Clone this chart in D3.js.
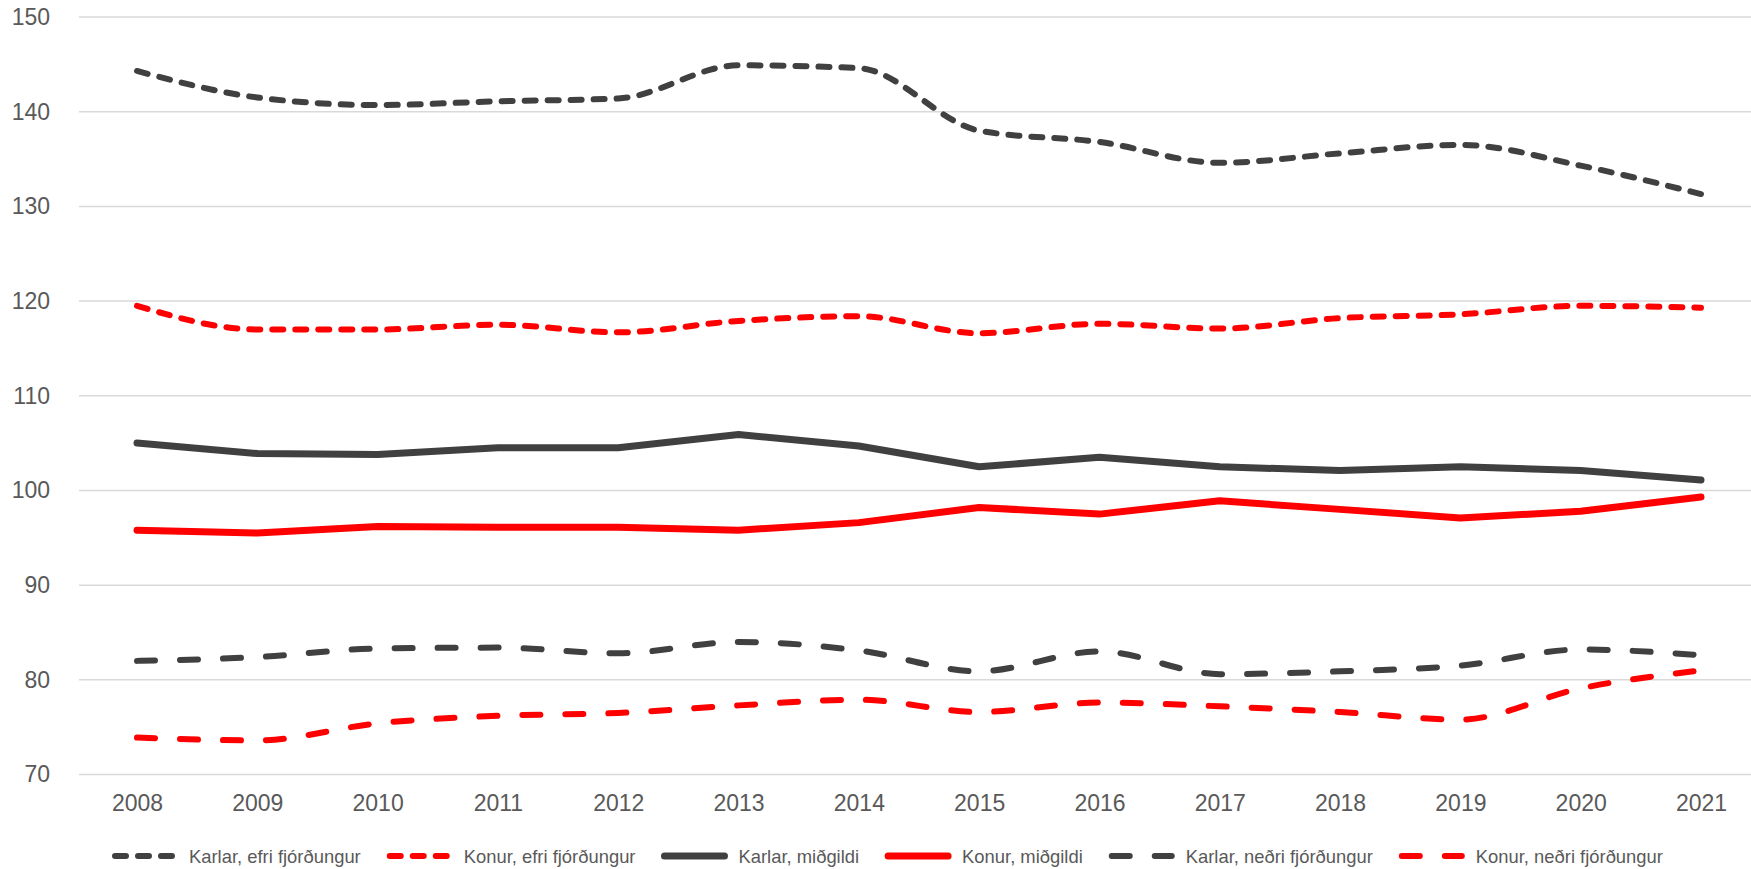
<!DOCTYPE html>
<head>
<meta charset="utf-8">
<style>
  body {
    margin:0;
    background:#fff;
  }
  .grid line {
    stroke:#d9d9d9;
    stroke-width:1.5px;
  }
  .axis text {
    font-family:"Liberation Sans", Arial, sans-serif;
    font-size:23px;
    fill:#595959;
  }
  .legend text {
    font-family:"Liberation Sans", Arial, sans-serif;
    font-size:18.4px;
    fill:#595959;
  }
</style>
</head>
<body>
<script src="https://cdn.jsdelivr.net/npm/d3@7"></script>
<script>

var width = 1751,
    height = 869;

// data
var years = [2008,2009,2010,2011,2012,2013,2014,2015,2016,2017,2018,2019,2020,2021];
var yTicks = [70,80,90,100,110,120,130,140,150];

var karlarEfri  = [144.3,141.5,140.7,141.1,141.4,144.9,144.6,138.0,136.8,134.6,135.6,136.5,134.3,131.3];
var konurEfri   = [119.5,117.0,117.0,117.5,116.7,117.9,118.4,116.6,117.6,117.1,118.2,118.6,119.5,119.3];
var karlarMid   = [105.0,103.9,103.8,104.5,104.5,105.9,104.7,102.5,103.5,102.5,102.1,102.5,102.1,101.1];
var konurMid    = [95.8,95.5,96.2,96.1,96.1,95.8,96.6,98.2,97.5,98.9,98.0,97.1,97.8,99.3];
var karlarNedri = [82.0,82.4,83.3,83.4,82.8,84.0,83.1,80.9,83.0,80.6,80.9,81.5,83.2,82.6];
var konurNedri  = [73.9,73.6,75.4,76.2,76.5,77.3,77.9,76.6,77.6,77.2,76.6,75.8,79.1,81.0];

var series = [
  {name:"Karlar, efri fjórðungur", values:karlarEfri,  color:"#404040", dash:"11,12", smooth:true},
  {name:"Konur, efri fjórðungur",  values:konurEfri,   color:"#ff0000", dash:"11,12", smooth:true},
  {name:"Karlar, miðgildi",        values:karlarMid,   color:"#404040", dash:null,    smooth:false},
  {name:"Konur, miðgildi",         values:konurMid,    color:"#ff0000", dash:null,    smooth:false},
  {name:"Karlar, neðri fjórðungur",values:karlarNedri, color:"#404040", dash:"18,25", smooth:true},
  {name:"Konur, neðri fjórðungur", values:konurNedri,  color:"#ff0000", dash:"18,25", smooth:true}
];

var svg = d3.select("body").append("svg")
    .attr("width", width)
    .attr("height", height);

var x = d3.scalePoint()
    .domain(years)
    .range([137, 1701]);

var y = d3.scaleLinear()
    .domain([70, 150])
    .range([774.5, 17]);

// gridlines
svg.append("g")
    .attr("class", "grid")
    .selectAll("line")
    .data(yTicks).enter()
    .append("line")
    .attr("x1", 79).attr("x2", width)
    .attr("y1", function(d){ return y(d); })
    .attr("y2", function(d){ return y(d); });

// y axis labels
var yAxis = svg.append("g")
    .attr("class", "axis")
    .attr("transform", "translate(50,0)")
    .call(d3.axisLeft(y).tickValues(yTicks).tickSize(0).tickPadding(0));
yAxis.select(".domain").remove();

// x axis labels
var xAxis = svg.append("g")
    .attr("class", "axis")
    .attr("transform", "translate(0,792)")
    .call(d3.axisBottom(x).tickSize(0).tickPadding(3));
xAxis.select(".domain").remove();
svg.selectAll(".axis text").attr("fill", "#595959");

var straight = d3.line()
    .x(function(d, i){ return x(years[i]); })
    .y(function(d){ return y(d); });

var smooth = d3.line()
    .x(function(d, i){ return x(years[i]); })
    .y(function(d){ return y(d); })
    .curve(d3.curveMonotoneX);

svg.selectAll(".series")
    .data(series).enter()
    .append("path")
    .attr("class", "series")
    .attr("d", function(d){ return (d.smooth ? smooth : straight)(d.values); })
    .style("fill", "none")
    .style("stroke", function(d){ return d.color; })
    .style("stroke-width", function(d){ return d.smooth ? 6 : 7; })
    .style("stroke-linecap", "round")
    .style("stroke-linejoin", "round")
    .style("stroke-dasharray", function(d){ return d.dash; });

// legend
var swatchW = 66, gapText = 11, gapItem = 26;

var legend = svg.append("g").attr("class", "legend");
var items = legend.selectAll("g")
    .data(series).enter()
    .append("g");

items.append("line")
    .attr("x1", 3).attr("x2", swatchW - 3)
    .attr("y1", 0).attr("y2", 0)
    .style("stroke", function(d){ return d.color; })
    .style("stroke-width", function(d){ return d.smooth ? 6 : 7; })
    .style("stroke-linecap", "round")
    .style("stroke-dasharray", function(d){ return d.dash; });

items.append("text")
    .attr("x", swatchW + gapText)
    .attr("y", 1)
    .attr("dy", "0.35em")
    .text(function(d){ return d.name; });

var pos = 112;
items.attr("transform", function(){
  var t = "translate(" + pos + ",856)";
  pos += swatchW + gapText + this.querySelector("text").getComputedTextLength() + gapItem;
  return t;
});

</script>
</body>
